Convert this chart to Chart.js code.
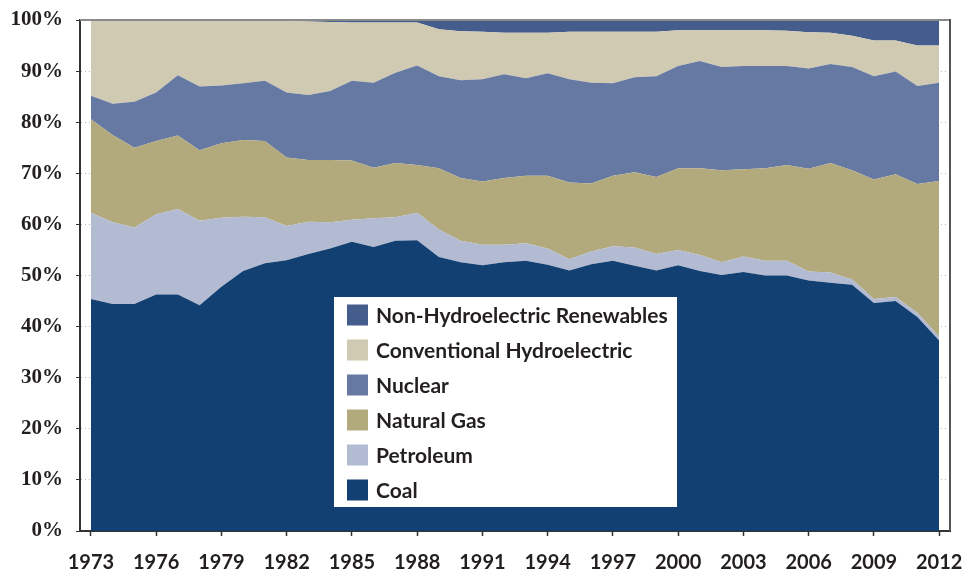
<!DOCTYPE html>
<html>
<head>
<meta charset="utf-8">
<script src="https://cdn.jsdelivr.net/npm/chart.js@4.4.1/dist/chart.umd.min.js"></script>
<style>
  html, body { margin: 0; padding: 0; background: #fff; }
  #wrap { width: 962px; height: 571px; position: relative; }
</style>
</head>
<body>
<div id="wrap"><canvas id="canvas"></canvas></div>
<script>
"use strict";

// years on the x axis
const years = [1973, 1974, 1975, 1976, 1977, 1978, 1979, 1980, 1981, 1982,
    1983, 1984, 1985, 1986, 1987, 1988, 1989, 1990, 1991, 1992,
    1993, 1994, 1995, 1996, 1997, 1998, 1999, 2000, 2001, 2002,
    2003, 2004, 2005, 2006, 2007, 2008, 2009, 2010, 2011, 2012];

// share of generation, percent
const coal = [45.4, 44.4, 44.4, 46.3, 46.3, 44.2, 47.8, 50.9, 52.4, 53.0,
    54.2, 55.3, 56.6, 55.6, 56.8, 56.9, 53.6, 52.6, 52.0, 52.6,
    52.9, 52.1, 51.0, 52.2, 52.9, 51.9, 51.0, 52.0, 50.9, 50.1,
    50.7, 50.0, 50.0, 49.0, 48.6, 48.2, 44.6, 45.0, 41.9, 37.3];
const petroleum = [16.9, 16.0, 15.0, 15.7, 16.7, 16.5, 13.5, 10.6, 9.0, 6.7,
    6.3, 5.1, 4.3, 5.6, 4.6, 5.4, 5.4, 4.2, 4.0, 3.4,
    3.4, 3.2, 2.2, 2.5, 2.8, 3.6, 3.2, 3.0, 3.1, 2.5,
    3.0, 2.9, 2.9, 1.8, 2.0, 1.0, 0.8, 0.8, 0.8, 0.7];
const naturalGas = [18.3, 17.1, 15.6, 14.3, 14.4, 13.8, 14.6, 15.0, 14.9, 13.4,
    12.1, 12.2, 11.6, 9.9, 10.6, 9.3, 12.0, 12.3, 12.4, 13.1,
    13.2, 14.2, 15.0, 13.3, 13.8, 14.7, 15.1, 16.0, 17.0, 18.0,
    17.1, 18.1, 18.7, 20.1, 21.4, 21.4, 23.4, 24.0, 25.2, 30.5];
const nuclear = [4.6, 6.1, 9.0, 9.5, 11.8, 12.5, 11.3, 11.1, 11.8, 12.7,
    12.7, 13.5, 15.6, 16.6, 17.7, 19.5, 18.0, 19.1, 20.0, 20.3,
    19.1, 20.1, 20.2, 19.7, 18.1, 18.6, 19.7, 20.0, 21.0, 20.2,
    20.2, 20.0, 19.4, 19.6, 19.4, 20.2, 20.2, 20.1, 19.2, 19.2];
const hydro = [14.7, 16.3, 15.9, 14.1, 10.7, 12.9, 12.6, 12.2, 11.7, 14.0,
    14.4, 13.5, 11.4, 11.8, 9.8, 8.4, 9.2, 9.6, 9.3, 8.1,
    8.9, 7.9, 9.3, 10.0, 10.1, 8.9, 8.7, 7.0, 6.0, 7.2,
    7.0, 7.0, 6.9, 7.1, 6.1, 6.1, 7.0, 6.1, 7.9, 7.3];
const renewables = [0.1, 0.1, 0.1, 0.1, 0.1, 0.1, 0.2, 0.2, 0.2, 0.2,
    0.3, 0.4, 0.5, 0.5, 0.5, 0.5, 1.8, 2.2, 2.3, 2.5,
    2.5, 2.5, 2.3, 2.3, 2.3, 2.3, 2.3, 2.0, 2.0, 2.0,
    2.0, 2.0, 2.1, 2.4, 2.5, 3.1, 4.0, 4.0, 5.0, 5.0];

const yTicks = [0, 10, 20, 30, 40, 50, 60, 70, 80, 90, 100];

const seriesNames = ['Coal', 'Petroleum', 'Natural Gas', 'Nuclear',
    'Conventional Hydroelectric', 'Non-Hydroelectric Renewables'];
const seriesColors = ['#134073', '#b3bbd3', '#b2aa7c', '#6679a3', '#d1cab2', '#455d8c'];
const seriesValues = [coal, petroleum, naturalGas, nuclear, hydro, renewables];

const textColor = '#231f20';

// legend box drawn inside the plot, like the original
const boxLegend = {
    id: 'boxLegend',
    afterDatasetsDraw(chart) {
        let ctx = chart.ctx;
        ctx.save();
        ctx.fillStyle = '#ffffff';
        ctx.fillRect(334, 297, 343, 210);
        ctx.font = 'bold 21px Lato, "Open Sans", sans-serif';
        ctx.textBaseline = 'middle';
        let sets = chart.data.datasets.slice().reverse();
        sets.forEach((ds, i) => {
            let cy = 315 + i * 35;
            ctx.fillStyle = ds.backgroundColor;
            ctx.fillRect(347, cy - 10.5, 21, 21);
            ctx.fillStyle = textColor;
            ctx.fillText(ds.label, 376, cy + 1);
        });
        ctx.restore();
    }
};

// top and right frame lines
const frame = {
    id: 'frame',
    afterDraw(chart) {
        let a = chart.chartArea;
        let ctx = chart.ctx;
        ctx.save();
        ctx.strokeStyle = '#8a8a8a';
        ctx.lineWidth = 2;
        ctx.beginPath();
        ctx.moveTo(a.left, a.top);
        ctx.lineTo(a.right, a.top);
        ctx.stroke();
        ctx.strokeStyle = '#555555';
        ctx.beginPath();
        ctx.moveTo(a.right, a.top - 1);
        ctx.lineTo(a.right, a.bottom);
        ctx.stroke();
        ctx.restore();
    }
};

let datasets = seriesNames.map((name, i) => ({
    label: name,
    data: seriesValues[i],
    backgroundColor: seriesColors[i],
    borderColor: seriesColors[i],
    borderWidth: 0,
    pointRadius: 0,
    tension: 0,
    fill: i === 0 ? 'origin' : '-1'
}));

new Chart(document.getElementById('canvas'), {
    type: 'line',
    data: { labels: years, datasets: datasets },
    plugins: [boxLegend, frame],
    options: {
        responsive: true,
        maintainAspectRatio: false,
        animation: false,
        layout: { padding: { top: 20, right: 12, bottom: 0, left: 0 } },
        plugins: {
            legend: { display: false },
            tooltip: { enabled: false }
        },
        scales: {
            x: {
                type: 'category',
                offset: true,
                grid: {
                    drawOnChartArea: false,
                    tickLength: 5,
                    tickColor: '#333333',
                    tickWidth: 1.5
                },
                border: { color: '#333333', width: 2 },
                ticks: {
                    autoSkip: false,
                    maxRotation: 0,
                    padding: 15,
                    color: textColor,
                    font: { family: 'Lato, "Open Sans", sans-serif', weight: 'bold', size: 20 },
                    callback: function (val, idx) {
                        return idx % 3 === 0 ? String(years[idx]) : null;
                    }
                },
                afterFit(scale) {
                    scale.height = 40;
                    scale.paddingLeft = 0;
                    scale.paddingRight = 0;
                }
            },
            y: {
                stacked: true,
                min: 0,
                max: 100,
                afterBuildTicks(scale) {
                    scale.ticks = yTicks.map(v => ({ value: v }));
                },
                grid: {
                    color: '#b5b5b5',
                    tickColor: '#333333',
                    tickLength: 4,
                    tickBorderDash: [],
                    lineWidth: 1
                },
                border: { color: '#333333', width: 2, dash: [1, 3] },
                ticks: {
                    padding: 13,
                    color: textColor,
                    font: { family: '"Liberation Serif", "DejaVu Serif", serif', weight: 'bold', size: 21 },
                    callback: v => v + '%'
                },
                afterFit(scale) {
                    scale.width = 80;
                    scale.paddingTop = 0;
                    scale.paddingBottom = 0;
                }
            }
        }
    }
});
</script>
</body>
</html>
